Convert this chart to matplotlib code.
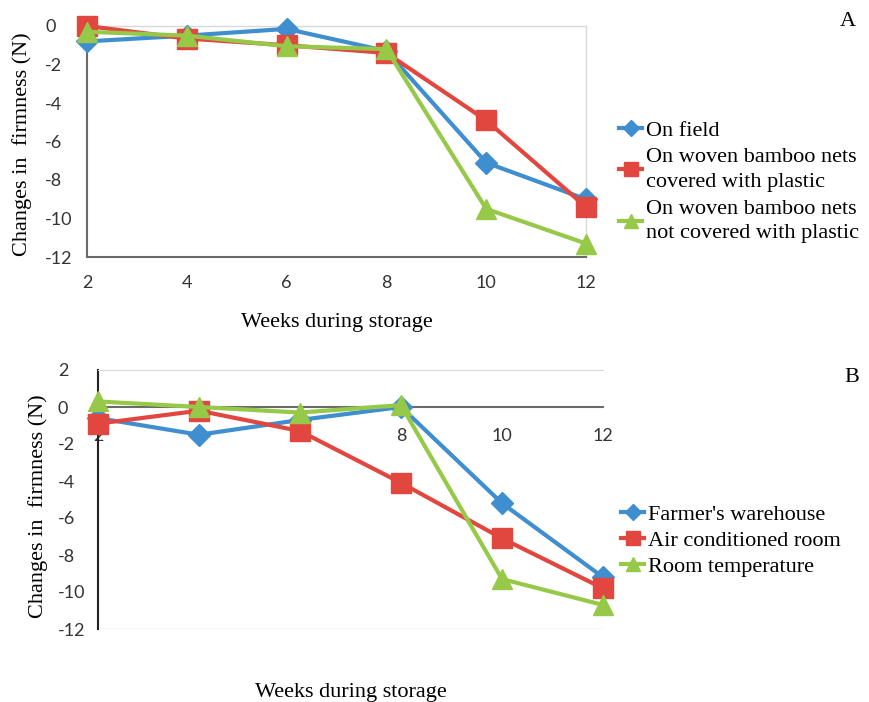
import matplotlib
matplotlib.use("Agg")
import matplotlib.pyplot as plt

plt.rcParams["axes.unicode_minus"] = False

weeks = [2, 4, 6, 8, 10, 12]

# Panel A
a_labels = ["On field",
            "On woven bamboo nets\ncovered with plastic",
            "On woven bamboo nets\nnot covered with plastic"]
a_field = [-0.8, -0.5, -0.15, -1.3, -7.1, -9.0]
a_covered = [0.0, -0.65, -1.0, -1.4, -4.9, -9.4]
a_uncovered = [-0.3, -0.5, -1.05, -1.2, -9.5, -11.3]

# Panel B
b_labels = ["Farmer's warehouse", "Air conditioned room", "Room temperature"]
b_warehouse = [-0.6, -1.5, -0.7, 0.0, -5.2, -9.2]
b_aircon = [-0.9, -0.2, -1.3, -4.1, -7.1, -9.8]
b_roomtemp = [0.3, 0.0, -0.3, 0.1, -9.3, -10.7]

a_yticks = [0, -2, -4, -6, -8, -10, -12]
b_yticks = [2, 0, -2, -4, -6, -8, -10, -12]

BLUE = "#3E8ED0"
RED = "#E2473F"
GREEN = "#97C948"
DARK = "#6b6b6b"
LIGHT = "#d9d9d9"
SERIF = "Liberation Serif"
SANS = "Lato"

styles = [dict(color=BLUE, marker="D", ms=11),
          dict(color=RED, marker="s", ms=14),
          dict(color=GREEN, marker="^", ms=14)]

fig = plt.figure(figsize=(8.7, 7.02), dpi=100)


def draw(ax, series, labels):
    lines = []
    for y, lab, st in zip(series, labels, styles):
        ln, = ax.plot(weeks, y, color=st["color"], lw=3, marker=st["marker"],
                      ms=st["ms"], mfc=st["color"], mec=st["color"],
                      label=lab, clip_on=False, zorder=3)
        lines.append(ln)
    return lines


def style_ticks(ax):
    for t in ax.get_yticklabels():
        t.set_ha("left")
    for t in ax.get_xticklabels() + ax.get_yticklabels():
        t.set_fontfamily(SANS)
        t.set_fontsize(13)
        t.set_color("#333333")


# ---- Panel A ----
axA = fig.add_axes([87 / 870, 1 - 257 / 702, 499 / 870, 231 / 702])
linesA = draw(axA, [a_field, a_covered, a_uncovered], a_labels)
axA.set_xlim(2, 12)
axA.set_ylim(-12, 0)
axA.set_xticks(weeks)
axA.set_yticks(a_yticks)
axA.set_axisbelow(True)
for s in ["left", "bottom"]:
    axA.spines[s].set_color(DARK)
    axA.spines[s].set_linewidth(1.5)
for s in ["top", "right"]:
    axA.spines[s].set_color(LIGHT)
    axA.spines[s].set_linewidth(1.0)
axA.tick_params(axis="x", length=0, pad=13)
axA.tick_params(axis="y", length=0, pad=30)
style_ticks(axA)

legA = axA.legend(handles=linesA, loc="upper left",
                  bbox_to_anchor=(619 / 870, 1 - 120 / 702),
                  bbox_transform=fig.transFigure, frameon=False,
                  prop={"family": SERIF, "size": 16}, handlelength=1.05,
                  handletextpad=0.15, borderpad=0, borderaxespad=0,
                  labelspacing=0.35, markerscale=0.75)
for t in legA.get_texts():
    t.set_linespacing(1.4)

# ---- Panel B ----
axB = fig.add_axes([98 / 870, 1 - 629 / 702, 505 / 870, 259 / 702])
linesB = draw(axB, [b_warehouse, b_aircon, b_roomtemp], b_labels)
axB.set_xlim(2, 12)
axB.set_ylim(-12, 2)
axB.set_xticks(weeks)
axB.set_yticks(b_yticks)
axB.set_axisbelow(True)
axB.spines["bottom"].set_position(("data", 0))
axB.spines["bottom"].set_color(DARK)
axB.spines["bottom"].set_linewidth(1.5)
axB.spines["left"].set_color("#222222")
axB.spines["left"].set_linewidth(1.5)
axB.spines["right"].set_visible(False)
axB.spines["top"].set_color(LIGHT)
axB.axhline(-12, color=LIGHT, lw=1.0, zorder=0.5)
axB.tick_params(axis="x", length=0, pad=15)
axB.tick_params(axis="y", length=0, pad=29)
style_ticks(axB)

legB = axB.legend(handles=linesB, loc="upper left",
                  bbox_to_anchor=(621 / 870, 1 - 504 / 702),
                  bbox_transform=fig.transFigure, frameon=False,
                  prop={"family": SERIF, "size": 16}, handlelength=1.05,
                  handletextpad=0.15, borderpad=0, borderaxespad=0,
                  labelspacing=0.25, markerscale=0.75)

# ---- Axis titles and panel letters ----
fig.text(22 / 870, 1 - 144 / 702, "Changes in  firmness (N)", rotation=90,
         ha="center", va="center", family=SERIF, fontsize=16)
fig.text(337 / 870, 1 - 323 / 702, "Weeks during storage",
         ha="center", va="center", family=SERIF, fontsize=16)
fig.text(38 / 870, 1 - 506 / 702, "Changes in  firmness (N)", rotation=90,
         ha="center", va="center", family=SERIF, fontsize=16)
fig.text(351 / 870, 1 - 692 / 702, "Weeks during storage",
         ha="center", va="center", family=SERIF, fontsize=16)
fig.text(848 / 870, 1 - 22 / 702, "A", ha="center", va="center",
         family=SERIF, fontsize=16)
fig.text(852 / 870, 1 - 377 / 702, "B", ha="center", va="center",
         family=SERIF, fontsize=16)

fig.savefig("out.png", dpi=100)
